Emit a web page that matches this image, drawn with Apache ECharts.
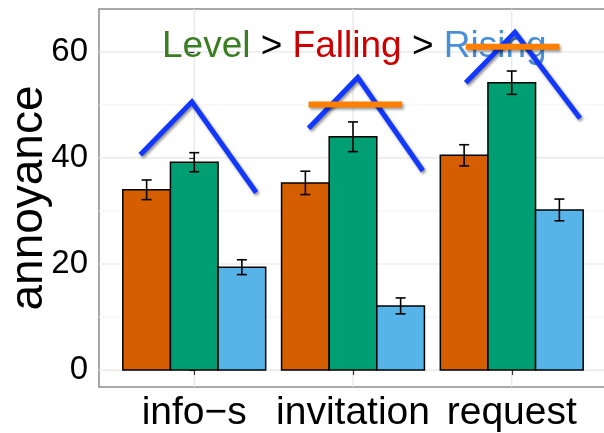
<!DOCTYPE html>
<html>
<head>
<meta charset="utf-8">
<script src="https://cdn.jsdelivr.net/npm/echarts@6/dist/echarts.min.js"></script>
<style>html,body{margin:0;padding:0;background:#fff}#c{width:604px;height:433px}</style>
</head>
<body>
<div id="c"></div>
<script>
// ---- data ----
const categories = ['info\u2212s', 'invitation', 'request'];
const seriesNames = ['Falling', 'Level', 'Rising'];
const falling = [34.0, 35.3, 40.5];
const level = [39.2, 44.0, 54.2];
const rising = [19.4, 12.1, 30.2];
const fallingErr = [1.85, 2.2, 2.0];
const levelErr = [1.8, 2.8, 2.2];
const risingErr = [1.4, 1.5, 2.05];
const yTicks = [0, 20, 40, 60];
const yMinorTicks = [10, 30, 50];
// hand-drawn annotation contours (x relative to category index, y in annoyance units)
const contourInfo = [[-0.34, 40.6], [-0.015, 50.6], [0.39, 33.5]];
const contourInvitation = [[-0.28, 45.6], [0.03, 55.2], [0.44, 37.6]];
const contourRequest = [[-0.29, 54.2], [0.02, 63.7], [0.43, 47.5]];
const levelMarkInvitation = [[-0.28, 50.1], [0.31, 50.1]];
const levelMarkRequest = [[-0.29, 61.0], [0.30, 61.0]];

// ---- styles ----
const FONT = "'Liberation Sans', Arial, Helvetica, sans-serif";
const barColors = ['#D55E00', '#009E73', '#56B4E9'];
const values = [falling, level, rising];
const errs = [fallingErr, levelErr, risingErr];
const dodge = 0.9, nS = 3, bw = dodge / nS;

const chart = echarts.init(document.getElementById('c'), null, {renderer: 'canvas'});

function shift(points, idx) { return points.map(p => [p[0] + idx, p[1]]); }

const barData = [];
values.forEach((arr, s) => arr.forEach((v, i) => barData.push([i, v, s, errs[s][i]])));

const gridData = [];
yTicks.forEach(v => gridData.push(['h', v, 1]));
yMinorTicks.forEach(v => gridData.push(['h', v, 0]));
categories.forEach((c, i) => gridData.push(['v', i, 1]));

const contours = [shift(contourInfo, 0), shift(contourInvitation, 1), shift(contourRequest, 2)];
const marks = [shift(levelMarkInvitation, 1), shift(levelMarkRequest, 2)];

const option = {
  animation: false,
  backgroundColor: '#ffffff',
  textStyle: {fontFamily: FONT},
  title: {
    text: '{g|Level}{k| > }{r|Falling}{k| > }{b|Rising}',
    left: 162, top: 28, padding: 0, z: 1,
    textStyle: {
      fontFamily: FONT, fontSize: 37, fontWeight: 'normal',
      rich: {
        g: {color: '#3A7D22', fontSize: 37, fontFamily: FONT},
        k: {color: '#000000', fontSize: 37, fontFamily: FONT},
        r: {color: '#CC0000', fontSize: 37, fontFamily: FONT},
        b: {color: '#4A8FD6', fontSize: 37, fontFamily: FONT}
      }
    }
  },
  grid: {
    left: 99, right: -3, top: 9, bottom: 46,
    outerBoundsMode: 'none', containLabel: false,
    show: true, borderColor: '#8c8c8c', borderWidth: 1.5, backgroundColor: 'transparent'
  },
  xAxis: {
    type: 'value', min: -0.6, max: 2.6,
    axisLine: {show: false},
    splitLine: {show: false},
    axisTick: {show: true, length: 5, inside: false, customValues: [0, 1, 2], lineStyle: {color: '#333', width: 1.2}},
    axisLabel: {
      customValues: [0, 1, 2], margin: 7,
      formatter: v => categories[Math.round(v)] || '',
      color: '#000', fontSize: 39, fontFamily: FONT
    }
  },
  yAxis: {
    type: 'value', min: -3.2, max: 68.1,
    name: 'annoyance', nameLocation: 'middle', nameRotate: 90, nameGap: 47, nameMoveOverlap: false,
    nameTextStyle: {fontSize: 46, color: '#000', fontFamily: FONT},
    axisLine: {show: false},
    splitLine: {show: false},
    axisTick: {show: true, length: 5, customValues: yTicks, lineStyle: {color: '#333', width: 1.2}},
    axisLabel: {customValues: yTicks, margin: 11, color: '#000', fontSize: 33, fontFamily: FONT}
  },
  series: [
    {
      type: 'custom', name: 'grid', z: 0, silent: true,
      data: gridData,
      renderItem: function (params, api) {
        const kind = gridData[params.dataIndex][0];
        const v = gridData[params.dataIndex][1];
        const major = gridData[params.dataIndex][2] === 1;
        let p1, p2;
        if (kind === 'h') { p1 = api.coord([-0.6, v]); p2 = api.coord([2.6, v]); }
        else { p1 = api.coord([v, -3.2]); p2 = api.coord([v, 68.1]); }
        return {
          type: 'line',
          shape: {x1: p1[0], y1: p1[1], x2: p2[0], y2: p2[1]},
          style: {stroke: major ? '#e6e6e6' : '#f2f2f2', lineWidth: major ? 1.2 : 1}
        };
      }
    },
    {
      type: 'custom', name: 'bars', z: 2,
      data: barData,
      encode: {x: 0, y: 1},
      renderItem: function (params, api) {
        const i = api.value(0), v = api.value(1), s = api.value(2), e = api.value(3);
        const x0 = i - dodge / 2 + s * bw, x1 = x0 + bw, xc = (x0 + x1) / 2;
        const tl = api.coord([x0, v]), br = api.coord([x1, 0]);
        const et = api.coord([xc, v + e]), eb = api.coord([xc, v - e]);
        const capHalf = 5;
        return {
          type: 'group',
          children: [
            {type: 'rect', shape: {x: tl[0], y: tl[1], width: br[0] - tl[0], height: br[1] - tl[1]},
             style: {fill: barColors[s], stroke: '#000', lineWidth: 1.5}},
            {type: 'line', shape: {x1: et[0], y1: et[1], x2: eb[0], y2: eb[1]}, style: {stroke: '#000', lineWidth: 1.6}},
            {type: 'line', shape: {x1: et[0] - capHalf, y1: et[1], x2: et[0] + capHalf, y2: et[1]}, style: {stroke: '#000', lineWidth: 1.6}},
            {type: 'line', shape: {x1: eb[0] - capHalf, y1: eb[1], x2: eb[0] + capHalf, y2: eb[1]}, style: {stroke: '#000', lineWidth: 1.6}}
          ]
        };
      }
    }
  ].concat(contours.map((pts, k) => ({
    type: 'line', name: 'contour' + k, z: 3, data: pts, showSymbol: false, symbol: 'none', silent: true,
    lineStyle: {color: '#1238FF', width: 5, join: 'miter', cap: 'butt',
      shadowBlur: 3, shadowColor: 'rgba(0,0,0,0.45)', shadowOffsetX: 1.5, shadowOffsetY: 2}
  }))).concat(marks.map((pts, k) => ({
    type: 'line', name: 'mark' + k, z: 4, data: pts, showSymbol: false, symbol: 'none', silent: true,
    lineStyle: {color: '#FF8000', width: 6, cap: 'butt',
      shadowBlur: 3, shadowColor: 'rgba(0,0,0,0.4)', shadowOffsetX: 1.5, shadowOffsetY: 2}
  })))
};
chart.setOption(option);
</script>
</body>
</html>
